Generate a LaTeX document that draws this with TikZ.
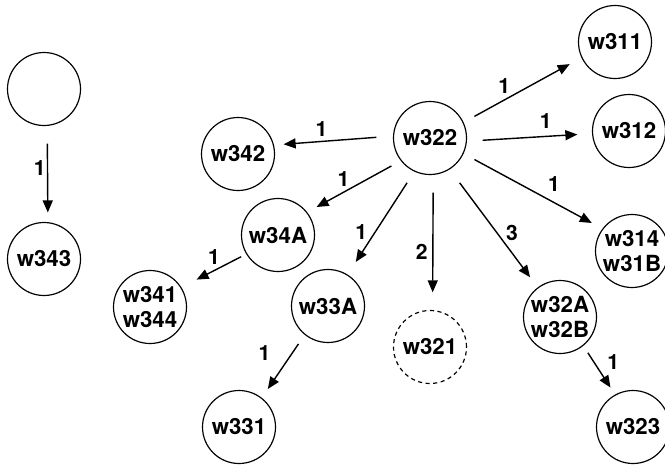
\documentclass[tikz,border=0pt]{standalone}
\usepackage{fontspec}
\setmainfont{TeX Gyre Heros}
\usetikzlibrary{arrows.meta}

\tikzset{
  wnode/.style={circle, draw, line width=1pt, minimum size=2.19cm, inner sep=0pt, align=center, font=\fontsize{19}{22}\selectfont\bfseries},
  ghost/.style={wnode, dash pattern=on 3.5pt off 3pt},
  arr/.style={line width=1.2pt, -{Triangle[length=0.36cm,width=0.3cm]}},
  lbl/.style={inner sep=1pt, font=\fontsize{18}{21.5}\selectfont\bfseries},
}

\begin{document}
\begin{tikzpicture}[x=0.03cm,y=-0.03cm]
\useasboundingbox (0,0) rectangle (665,464);
% word nodes
\node[wnode] (n0) at (44,89) {};
\node[wnode] (w343) at (44,259) {w343};
\node[wnode] (w342) at (238,154) {w342};
\node[wnode] (w322) at (430,138) {w322};
\node[wnode] (w311) at (615,42) {w311};
\node[wnode] (w312) at (629,131) {w312};
\node[wnode] (w314) at (632,251) {w314\\w31B};
\node[wnode] (w34A) at (278,235) {w34A};
\node[wnode] (w341) at (150,307) {w341\\w344};
\node[wnode] (w33A) at (328,306) {w33A};
\node[wnode] (w331) at (239,427) {w331};
\node[ghost] (w321) at (430,347) {w321};
\node[wnode] (w32A) at (560,317) {w32A\\w32B};
\node[wnode] (w323) at (633,427) {w323};
% arrows
\draw[arr, shorten <=0.53cm, shorten >=0.29cm] (n0.-85) -- node[lbl, pos=0.44, left] {1} (w343.84);
\draw[arr, shorten <=0.5cm, shorten >=0.29cm] (w322.177) -- node[lbl, pos=0.6, above=3pt] {1} (w342.14);
\draw[arr, shorten <=0.37cm, shorten >=0.4cm] (w322.25.5) -- node[lbl, pos=0.41, above left] {1} (w311.205);
\draw[arr, shorten <=0.47cm, shorten >=0.44cm] (w322.-5.5) -- node[lbl, pos=0.63, above=5pt] {1} (w312.184.5);
\draw[arr, shorten <=0.37cm, shorten >=0.36cm] (w322.-25.5) -- node[lbl, pos=0.57, above right=3pt] {1} (w314.143.4);
\draw[arr, shorten <=0.32cm, shorten >=0.32cm] (w322.218) -- node[lbl, pos=0.53, above left] {1} (w34A.38);
\draw[arr, shorten <=0.4cm, shorten >=0.45cm] (w322.-115) -- node[lbl, pos=0.68, above left] {1} (w33A.58.5);
\draw[arr, shorten <=0.53cm, shorten >=0.53cm] (w322.-85) -- node[lbl, pos=0.57, left=3pt] {2} (w321.86);
\draw[arr, shorten <=0.5cm, shorten >=0.38cm] (w322.-58) -- node[lbl, pos=0.62, above right] {3} (w32A.127.6);
\draw[arr, shorten <=0.17cm, shorten >=0.51cm] (w34A.211.4) -- node[lbl, pos=0.38, above left] {1} (w341.32.8);
\draw[arr, shorten <=0.33cm, shorten >=0.32cm] (w33A.-129) -- node[lbl, pos=0.29, left=17pt] {1} (w331.52);
\draw[arr, shorten <=0.25cm, shorten >=0.25cm] (w32A.-51.3) -- node[lbl, pos=0.33, right=10pt] {1} (w323.119.4);
\end{tikzpicture}
\end{document}
